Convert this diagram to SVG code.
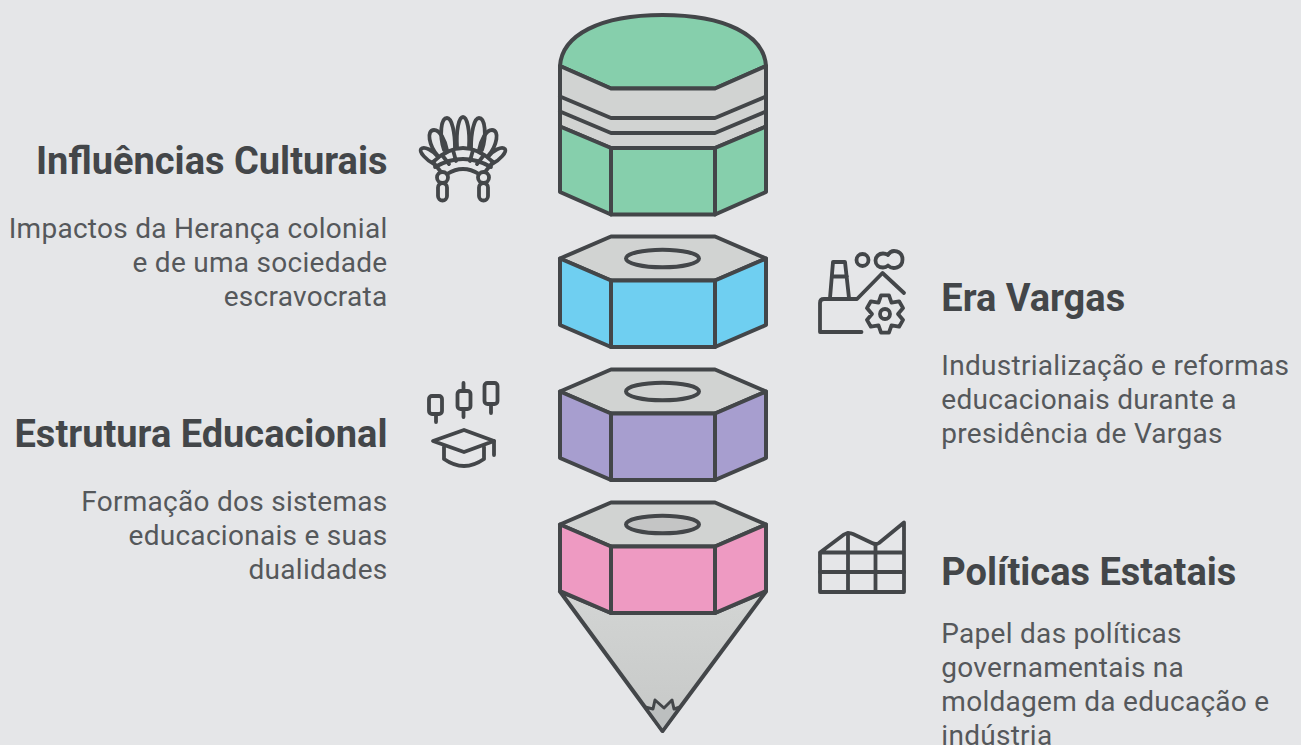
<svg xmlns="http://www.w3.org/2000/svg" width="1301" height="745" viewBox="0 0 1301 745">
<defs>
<style>
.o{stroke:#434649;stroke-width:4;stroke-linejoin:round;stroke-linecap:round}
.i{fill:none;stroke:#434649;stroke-width:3.8;stroke-linejoin:round;stroke-linecap:round}
.t{font-family:Roboto,"Liberation Sans",sans-serif;font-weight:700;font-size:38px;fill:#434649}
.b{font-family:Roboto,"Liberation Sans",sans-serif;font-size:28px;fill:#55585b;letter-spacing:.28px}
.e{text-anchor:end}
.top{fill:#d1d3d2}
</style>
<g id="seg">
<path class="o top" d="M560 22.500L611 0.500H715L766 22.500L715 44.500H611Z"/>
</g>
<g id="feathers">
<path d="M444 150C439 135 441 118 447 118C452 118 455 133 455 148"/>
<path d="M438 156C429 146 426 130 434 130C440 130 445 140 447 150"/>
<path d="M434 164C426 160 419 152 421 149C424 146 433 150 438 157"/>
</g>
<linearGradient id="cone" x1="0" y1="0" x2="0" y2="1"><stop offset="0" stop-color="#d3d5d4"/><stop offset="1" stop-color="#c6c8c7"/></linearGradient>
</defs>
<rect width="1301" height="745" fill="#e5e6e8"/>
<g id="connectors"/>

<g id="pencil-top">
<path class="o" fill="#86cfac" d="M560 66C562 35 600 15 662.500 15C725 15 764 35 766 66L715 88.500H611Z"/>
<path class="o top" d="M560 66L611 88.500H715L766 66V126.500L715 148H611L560 126.500Z"/>
<path class="i" style="stroke-width:4" d="M560 96.500L611 118H715L766 96.500M560 111.500L611 133H715L766 111.500"/>
<path class="o" fill="#86cfac" d="M560 126.500L611 148V214.500L560 192Z"/>
<path class="o" fill="#86cfac" d="M611 148H715V214.500H611Z"/>
<path class="o" fill="#86cfac" d="M715 148L766 126.500V192L715 214.500Z"/>
</g>

<g id="segment-blue" transform="translate(0 236)">
<use href="#seg"/>
<ellipse class="o top" cx="662.500" cy="22.500" rx="36.500" ry="8.800"/>
<g fill="#6fcff1"><path class="o" d="M560 22.500L611 44.500V111L560 89Z"/><path class="o" d="M611 44.500H715V111H611Z"/><path class="o" d="M715 44.500L766 22.500V89L715 111Z"/></g>
</g>
<g id="segment-purple" transform="translate(0 369)">
<use href="#seg"/>
<ellipse class="o top" cx="662.500" cy="22.500" rx="36.500" ry="8.800"/>
<g fill="#a79ecf"><path class="o" d="M560 22.500L611 44.500V111L560 89Z"/><path class="o" d="M611 44.500H715V111H611Z"/><path class="o" d="M715 44.500L766 22.500V89L715 111Z"/></g>
</g>
<g id="pencil-tip">
<path class="o" fill="url(#cone)" d="M560 591.500L611 613H715L766 591.500L662.500 731Z"/>
<path class="o" fill="#bcbfbf" style="stroke-width:3" d="M645 707L653 709L655 700L664 708L672 700L674 709L680 707L662.500 731Z"/>
</g>
<g id="segment-pink" transform="translate(0 502)">
<use href="#seg"/>
<ellipse class="o" fill="#c4c5c5" cx="662.500" cy="22.500" rx="36.500" ry="8.800"/>
<g fill="#ee9ac2"><path class="o" d="M560 22.500L611 44.500V111L560 89Z"/><path class="o" d="M611 44.500H715V111H611Z"/><path class="o" d="M715 44.500L766 22.500V89L715 111Z"/></g>
</g>

<g id="influencias">
<text class="t e" x="387.500" y="173.700">Influências Culturais</text>
<text class="b e" x="387.500" y="238.200">Impactos da Herança colonial</text>
<text class="b e" x="387.500" y="272.200">e de uma sociedade</text>
<text class="b e" x="387.500" y="306.200">escravocrata</text>
<g class="i">
<path d="M457 147C456 130 459 117 463 117C467 117 470 130 469 147"/>
<use href="#feathers"/>
<use href="#feathers" transform="matrix(-1 0 0 1 926 0)"/>
<path d="M433 162Q463 134 493 162"/>
<path d="M435 167Q463 151 491 167"/>
<path d="M447 174Q463 164 479 174"/>
<path d="M433 162L441 172M442 155L449 164M453 150L456 161M473 150L470 161M484 155L477 164M493 162L485 172"/>
<circle cx="442.500" cy="177.500" r="5.500"/><circle cx="483.500" cy="177.500" r="5.500"/>
<rect x="438" y="183" width="9" height="17.500" rx="4.500"/><rect x="479" y="183" width="9" height="17.500" rx="4.500"/>
</g>
</g>

<g id="era-vargas">
<text class="t" x="941.300" y="310.700">Era Vargas</text>
<text class="b" x="941.300" y="375.200">Industrialização e reformas</text>
<text class="b" x="941.300" y="409.200">educacionais durante a</text>
<text class="b" x="941.300" y="443.200">presidência de Vargas</text>
<g class="i">
<path d="M861.500 332H820V303Q820 299 824 299H857L882.500 273L904 293"/>
<path d="M830 298L833 262H845L849 298M832 276.500H847"/>
<circle cx="862.500" cy="260" r="6"/>
<path d="M883 253.500C879 253.500 875.500 256.500 875.500 260.500C875.500 265 879 267.500 883 267.500C885 267.500 887 266.500 888 265.500C893 270.500 902.500 267.500 902.500 259.500C902.500 251 892 248 888 255C886.500 254 885 253.500 883 253.500Z"/>
<path d="M881.050 295.400L888.950 295.400L891.500 302.700L899.100 301.300L903.070 308.100L898 314L903.070 319.900L899.100 326.700L891.500 325.300L888.950 332.600L881.050 332.600L878.500 325.300L870.900 326.700L866.930 319.900L872 314L866.930 308.100L870.900 301.300L878.500 302.700Z"/>
<circle cx="885" cy="314" r="5"/>
</g>
</g>

<g id="estrutura">
<text class="t e" x="387.500" y="446.700">Estrutura Educacional</text>
<text class="b e" x="387.500" y="511.200">Formação dos sistemas</text>
<text class="b e" x="387.500" y="545.200">educacionais e suas</text>
<text class="b e" x="387.500" y="579.200">dualidades</text>
<g class="i">
<rect x="429" y="396" width="13" height="18" rx="3"/><path d="M436 414V422"/>
<rect x="457.500" y="391" width="13" height="18" rx="3"/><path d="M463.500 383V391M463.500 409V417"/>
<rect x="484.500" y="383" width="13" height="21" rx="3"/><path d="M491 404V413"/>
<path d="M433 441L464 430L494 441L464 452Z"/>
<path d="M444 447V459Q464 473 484 459V447M494 441V455"/>
</g>
</g>

<g id="politicas">
<text class="t" x="941.300" y="584.700">Políticas Estatais</text>
<text class="b" x="941.300" y="643.200">Papel das políticas</text>
<text class="b" x="941.300" y="677.200">governamentais na</text>
<text class="b" x="941.300" y="711.200">moldagem da educação e</text>
<text class="b" x="941.300" y="745">indústria</text>
<g class="i">
<path d="M820 552.500V592H904V522.500L879 543Q876 545 872 543L853 534Q848 532 844 534.500L820 552.500H904"/>
<path d="M848 533V592M875.500 544V592M820 572H904"/>
</g>
</g>
</svg>
